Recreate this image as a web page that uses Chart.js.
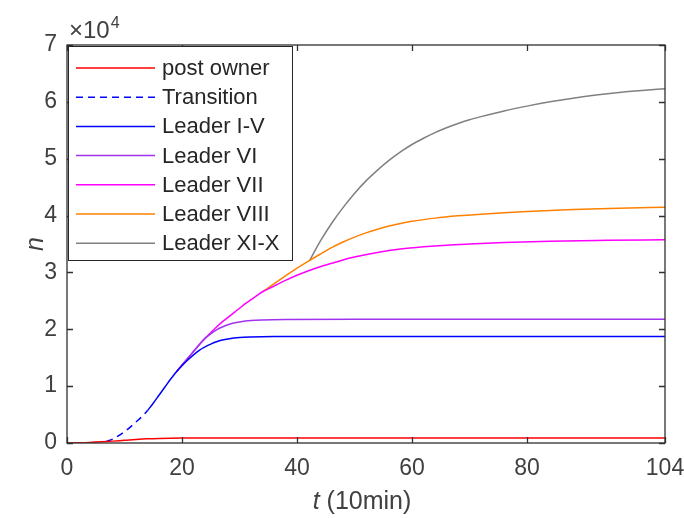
<!DOCTYPE html>
<html>
<head>
<meta charset="utf-8">
<script src="https://cdn.jsdelivr.net/npm/chart.js@4.4.1/dist/chart.umd.min.js"></script>
<style>
  html, body { margin: 0; padding: 0; background: #fff; }
  #c { display: block; }
</style>
</head>
<body>
<canvas id="c" width="684" height="518"></canvas>
<script>
// Values (t in units of 10 min, n = count)
const xTicks = [0, 20, 40, 60, 80, 104];
const yTicks = [0, 10000, 20000, 30000, 40000, 50000, 60000, 70000];

const tPost = [0, 2, 4, 6, 8, 10, 12, 14, 16, 18, 20, 24, 30, 50, 104];
const nPost = [0, 40, 100, 200, 330, 480, 620, 730, 800, 840, 860, 875, 880, 885, 890];

const tTrans = [6.8, 8, 9, 10, 11, 12, 13, 14];
const nTrans = [250, 700, 1300, 2000, 2800, 3700, 4600, 5700];

const tLead1 = [14, 15, 16, 17, 18, 19, 20, 21, 22, 23, 24, 25, 26, 27, 28, 30, 32, 36, 44, 104];
const nLead1 = [5700, 7000, 8400, 9800, 11200, 12500, 13600, 14600, 15500, 16300, 16900, 17400, 17800, 18100, 18300, 18550, 18650, 18730, 18750, 18750];

const tLead6 = [19, 20, 21, 22, 23, 24, 25, 26, 27, 28, 29, 30, 32, 34, 38, 50, 104];
const nLead6 = [12500, 13700, 14900, 16100, 17300, 18400, 19200, 19900, 20400, 20800, 21100, 21300, 21550, 21650, 21720, 21750, 21750];

const tLead7 = [19, 20, 21, 22, 23, 24, 25, 26, 27, 28, 29, 30, 31, 32, 33, 34, 35, 36, 38, 40, 42, 44, 46, 48, 50, 54, 58, 62, 66, 70, 76, 84, 94, 104];
const nLead7 = [12500, 13700, 14900, 16100, 17300, 18400, 19400, 20400, 21300, 22100, 22900, 23700, 24500, 25200, 25900, 26600, 27100, 27600, 28600, 29500, 30300, 31000, 31600, 32200, 32700, 33500, 34100, 34500, 34800, 35000, 35250, 35500, 35650, 35750];

const tLead8 = [34, 35, 36, 38, 40, 42, 44, 46, 48, 50, 52, 54, 56, 58, 60, 64, 68, 72, 76, 80, 88, 96, 104];
const nLead8 = [26600, 27300, 28000, 29400, 30750, 32000, 33200, 34350, 35350, 36200, 36950, 37600, 38150, 38600, 39000, 39550, 39950, 40250, 40500, 40700, 41050, 41300, 41450];

const tLead9 = [42.2, 44, 46, 48, 50, 52, 54, 56, 58, 60, 62, 64, 66, 68, 70, 72, 76, 80, 84, 88, 92, 96, 100, 104];
const nLead9 = [32100, 35400, 38600, 41400, 43900, 46100, 48000, 49700, 51200, 52500, 53600, 54600, 55450, 56200, 56850, 57400, 58400, 59250, 60000, 60650, 61200, 61650, 62000, 62300];

const seriesLabels = ['post owner', 'Transition', 'Leader I-V', 'Leader VI', 'Leader VII', 'Leader VIII', 'Leader XI-X'];
const seriesColors = ['#ff0000', '#0000ff', '#0000ff', '#a033f0', '#ff00ff', '#ff8000', '#808080'];

const AXIS_COLOR = '#404040';
const FONT = '"Liberation Sans", Arial, sans-serif';

function toPoints(ts, ns) {
  return ts.map((t, i) => ({ x: t, y: ns[i] }));
}

const seriesData = [
  toPoints(tPost, nPost),
  toPoints(tTrans, nTrans),
  toPoints(tLead1, nLead1),
  toPoints(tLead6, nLead6),
  toPoints(tLead7, nLead7),
  toPoints(tLead8, nLead8),
  toPoints(tLead9, nLead9)
];

const datasets = seriesData.map((data, i) => ({
  label: seriesLabels[i],
  data,
  borderColor: seriesColors[i],
  borderWidth: 1.5,
  borderDash: i === 1 ? [7, 5] : [],
  showLine: true,
  pointRadius: 0,
  cubicInterpolationMode: 'monotone',
  fill: false
}));

// Box around the axes with inward ticks on all four sides, like MATLAB
const boxAxes = {
  id: 'boxAxes',
  afterDatasetsDraw(chart) {
    const { ctx, chartArea: a, scales } = chart;
    const len = 6;
    ctx.save();
    ctx.strokeStyle = '#303030';
    ctx.lineWidth = 1.3;
    ctx.beginPath();
    xTicks.forEach(v => {
      const px = Math.round(scales.x.getPixelForValue(v)) + 0.5;
      ctx.moveTo(px, a.bottom); ctx.lineTo(px, a.bottom - len);
      ctx.moveTo(px, a.top); ctx.lineTo(px, a.top + len);
    });
    yTicks.forEach(v => {
      const py = Math.round(scales.y.getPixelForValue(v)) + 0.5;
      ctx.moveTo(a.left, py); ctx.lineTo(a.left + len, py);
      ctx.moveTo(a.right, py); ctx.lineTo(a.right - len, py);
    });
    ctx.stroke();
    ctx.strokeRect(a.left, a.top, a.right - a.left, a.bottom - a.top);
    ctx.restore();
  }
};

// Legend box in the upper left corner of the plot
const boxLegend = {
  id: 'boxLegend',
  afterDatasetsDraw(chart) {
    const { ctx, chartArea: a } = chart;
    const x0 = a.left + 1, y0 = a.top + 1, w = 224, h = 214;
    const rowH = 29.2;
    ctx.save();
    ctx.fillStyle = '#fff';
    ctx.fillRect(x0, y0, w, h);
    ctx.strokeStyle = '#262626';
    ctx.lineWidth = 1;
    ctx.strokeRect(x0 + 0.5, y0 + 0.5, w, h);
    ctx.font = '22px ' + FONT;
    ctx.textBaseline = 'middle';
    ctx.textAlign = 'left';
    chart.data.datasets.forEach((ds, i) => {
      const y = y0 + 22 + i * rowH;
      ctx.strokeStyle = ds.borderColor;
      ctx.lineWidth = 1.5;
      ctx.setLineDash(ds.borderDash);
      ctx.beginPath();
      ctx.moveTo(x0 + 8, y);
      ctx.lineTo(x0 + 87, y);
      ctx.stroke();
      ctx.setLineDash([]);
      ctx.fillStyle = '#262626';
      ctx.fillText(ds.label, x0 + 94, y + 1);
    });
    ctx.restore();
  }
};

// Axis titles and the exponent marker, drawn with mixed italic text
const axisTexts = {
  id: 'axisTexts',
  afterDraw(chart) {
    const { ctx, chartArea: a } = chart;
    ctx.save();
    ctx.fillStyle = AXIS_COLOR;
    ctx.textBaseline = 'alphabetic';

    // x title: "t (10min)"
    const italic = 'italic 25px ' + FONT;
    const normal = '25px ' + FONT;
    ctx.font = italic;
    const wt = ctx.measureText('t').width;
    ctx.font = normal;
    const wr = ctx.measureText(' (10min)').width;
    const cx = (a.left + a.right) / 2 - 4;
    let x = cx - (wt + wr) / 2;
    ctx.font = italic;
    ctx.fillText('t', x, 509);
    ctx.font = normal;
    ctx.fillText(' (10min)', x + wt, 509);

    // y title: "n"
    ctx.save();
    ctx.translate(43, (a.top + a.bottom) / 2);
    ctx.rotate(-Math.PI / 2);
    ctx.font = italic;
    ctx.textAlign = 'center';
    ctx.fillText('n', 0, 0);
    ctx.restore();

    // exponent: ×10^4
    ctx.font = '24px ' + FONT;
    ctx.textAlign = 'left';
    ctx.fillText('\u00d710', a.left + 2, 38);
    const w10 = ctx.measureText('\u00d710').width;
    ctx.font = '16px ' + FONT;
    ctx.fillText('4', a.left + 3 + w10, 28);
    ctx.restore();
  }
};

new Chart(document.getElementById('c'), {
  type: 'scatter',
  data: { datasets },
  plugins: [boxAxes, boxLegend, axisTexts],
  options: {
    responsive: false,
    animation: false,
    layout: { padding: { top: 45, right: 19, left: 0, bottom: 0 } },
    plugins: {
      legend: { display: false },
      tooltip: { enabled: false },
      title: { display: false }
    },
    scales: {
      x: {
        type: 'linear',
        min: 0,
        max: 104,
        afterBuildTicks: s => { s.ticks = xTicks.map(v => ({ value: v })); },
        afterFit: s => { s.height = 75; s.paddingLeft = 0; s.paddingRight = 0; },
        grid: { display: false, drawTicks: false },
        border: { display: false },
        ticks: {
          color: AXIS_COLOR,
          font: { family: FONT, size: 23 },
          padding: 12,
          maxRotation: 0,
          autoSkip: false
        }
      },
      y: {
        type: 'linear',
        min: 0,
        max: 70000,
        afterBuildTicks: s => { s.ticks = yTicks.map(v => ({ value: v })); },
        afterFit: s => { s.width = 67; s.paddingTop = 0; s.paddingBottom = 0; },
        grid: { display: false, drawTicks: false },
        border: { display: false },
        ticks: {
          color: AXIS_COLOR,
          font: { family: FONT, size: 23 },
          padding: 10,
          callback: v => String(v / 10000)
        }
      }
    }
  }
});
</script>
</body>
</html>
